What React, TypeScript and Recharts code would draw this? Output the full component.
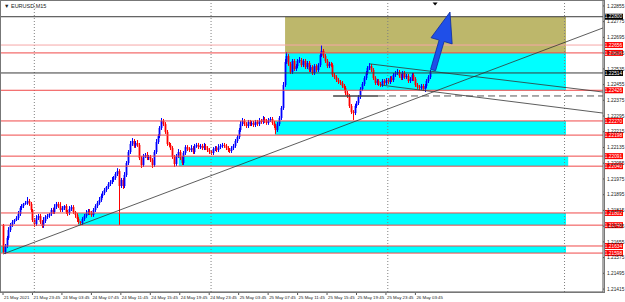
import React from 'react';
import {
  ComposedChart, Bar, XAxis, YAxis, ReferenceArea, ReferenceLine, ReferenceDot,
} from 'recharts';

// EURUSD M15, 21 May 19:45 -> 26 May 05:45. closes are pips above BASE
const BASE = 1.21;
const FIRST_OPEN = 74.1;
const CLOSES = [
  60.3, 63.4, 67.5, 71.5, 74.1, 75.6, 76.6, 77.6, 79.7, 82.7,
  83.7, 84.8, 85.3, 86.3, 84.8, 81.7, 76.6, 74.6, 77.6, 78.7,
  75.6, 73.6, 76.1, 78.1, 78.7, 79.7, 81.7, 80.7, 83.2, 84.8,
  83.7, 81.7, 82.7, 83.7, 80.7, 80.2, 82.2, 83.2, 80.7, 79.2,
  77.1, 75.6, 75.1, 77.1, 78.7, 80.2, 81.2, 80.2, 79.2, 81.7,
  83.7, 85.3, 86.8, 88.8, 90.3, 91.9, 93.4, 94.9, 95.9, 97.0,
  98.0, 100.0, 101.5, 93.9, 97.0, 93.9, 99.5, 105.6, 111.2, 115.3,
  116.8, 114.3, 115.8, 114.8, 108.1, 104.6, 109.2, 109.7, 108.1, 108.7,
  107.1, 104.6, 111.2, 116.3, 119.3, 123.4, 127.0, 125.4, 121.4, 115.3,
  114.8, 113.2, 108.7, 105.1, 109.2, 111.2, 108.1, 105.6, 110.7, 113.7,
  112.7, 112.2, 113.2, 111.2, 114.3, 114.8, 113.7, 114.3, 113.2, 114.3,
  113.2, 112.2, 111.2, 110.7, 112.7, 113.2, 112.2, 113.7, 114.3, 114.8,
  114.3, 113.2, 112.2, 111.7, 113.2, 114.3, 116.8, 118.8, 122.4, 125.4,
  127.0, 125.4, 124.4, 126.5, 125.4, 126.0, 124.9, 126.5, 125.4, 127.0,
  126.5, 128.0, 127.0, 126.0, 127.5, 128.0, 126.0, 124.4, 122.4, 125.4,
  128.5, 133.6, 145.3, 157.0, 160.0, 156.0, 151.9, 157.5, 153.4, 154.9,
  157.5, 158.0, 155.4, 157.5, 154.4, 156.5, 152.9, 154.4, 151.4, 154.9,
  152.9, 155.4, 160.5, 162.6, 160.0, 157.5, 154.9, 156.0, 155.4, 150.4,
  149.3, 147.8, 146.8, 146.3, 144.8, 143.8, 141.2, 139.7, 134.6, 131.5,
  131.0, 134.6, 136.1, 139.2, 143.2, 145.8, 148.8, 151.4, 153.9, 154.9,
  152.9, 148.8, 146.3, 147.3, 145.8, 145.3, 147.3, 146.3, 147.8, 146.8,
  148.8, 147.8, 150.4, 151.4, 151.9, 149.9, 148.8, 151.4, 149.3, 149.9,
  147.3, 148.3, 150.4, 148.3, 145.3, 144.3, 143.8, 144.8, 143.2, 144.8,
  147.3, 149.3, 151.9,
];
const WICK_UP = [
  0.5, 1, 1, 1.5, 1, 1, 0.5, 1, 1.5, 1,
  1, 0.5, 1, 2, 1, 1, 0.5, 1, 1.5, 1,
  1, 1, 2, 1, 1, 0.5, 1, 1, 1.5, 1,
  1, 2, 1, 0.5, 1, 1, 1.5, 1, 1, 0.5,
  1, 1, 0.5, 1, 1, 1.5, 1, 1, 1, 1,
  1, 1, 1.5, 1, 1, 1, 0.5, 1, 1, 1.5,
  1, 1, 1.5, 1, 1, 1, 1.5, 1, 1, 1.5,
  1.5, 1, 1, 1.5, 1, 1, 1, 1, 1.5, 1,
  1, 1, 1, 1.5, 1, 1, 1.5, 1, 1, 1,
  1, 1, 1, 1, 1, 1.5, 1, 1, 1, 1,
  1, 1, 1.5, 1, 1, 1, 1, 1, 1, 1.5,
  1, 1, 1, 1, 1, 1, 1, 1.5, 1, 1,
  1, 1, 1, 1, 1, 1, 1, 1, 1, 1.5,
  1.5, 1, 1, 1, 1, 1, 1, 1, 1, 1.5,
  1, 1.5, 1, 1, 1, 1, 1, 1, 1, 1,
  1, 1, 1.5, 1.5, 2, 1, 1, 1, 1, 1,
  1, 1.5, 1, 1, 1, 1, 1, 1, 1, 1,
  1, 1, 1, 3, 1, 1, 1, 1, 1, 1,
  1, 1, 1, 1, 1, 1, 1, 1, 1, 1,
  1, 1, 1, 1, 1, 1, 1, 1, 1, 1.5,
  1, 1, 1, 1, 1, 1, 1, 1, 1, 1,
  1, 1, 1, 1, 1.5, 1, 1, 1, 1, 1,
  1, 1, 1, 1, 1, 1, 1, 1, 1, 1,
  1, 1, 1,
];
const WICK_DN = [
  0.5, 1, 1, 1, 1, 1, 1, 0.5, 1, 1,
  1, 1, 0.5, 1, 1, 1, 1, 1.5, 1, 1,
  1, 1, 1, 1, 1, 1, 1, 1, 1, 1,
  1, 1, 1, 1, 1, 1.5, 1, 1, 1, 1.5,
  1.5, 1, 1, 1, 1, 1, 1, 1, 1, 1,
  1, 1, 1, 1, 1, 1, 1, 1, 1, 1,
  1, 1, 1, 19.8, 1, 1.5, 1, 1, 1, 1,
  1, 1, 1, 1, 1, 1.5, 1, 1, 1, 1,
  1, 1.5, 1, 1, 1, 1, 1, 1, 1, 1,
  1, 1, 1, 1.5, 1, 1, 1, 1, 1, 1,
  1, 1, 1, 1, 1, 1, 1, 1, 1, 1,
  1, 1, 1, 1, 1, 1, 1, 1, 1, 1,
  1, 1, 1, 1, 1, 1, 1, 1, 1, 1,
  1, 1, 1, 1, 1, 1, 1, 1, 1, 1,
  1, 1, 1, 1, 1, 1, 1, 1, 2, 1,
  1, 1, 1, 1, 1, 1, 1, 1, 1, 1,
  1, 1, 1, 1, 1, 1, 1, 1, 1, 1,
  1, 1, 1, 1, 1, 1, 1, 1, 1, 1,
  1, 1, 1, 1, 1, 1, 1, 1, 1, 1,
  3.5, 1, 1, 1, 1, 1, 1, 1, 1, 1,
  1, 1, 1, 1, 1, 1, 1, 1, 1, 1,
  1, 1, 1, 1, 1, 1, 1, 1, 1, 1,
  1, 1, 1, 1, 1, 1, 1, 1, 1, 1.5,
  1, 1, 1,
];

const TIME_TICKS = [0, 16, 32, 48, 64, 80, 96, 112, 128, 144, 160, 176, 192, 208, 224];
const TIME_LABELS = [
  '21 May 2021', '21 May 23:45', '24 May 03:45', '24 May 07:45', '24 May 11:45',
  '24 May 15:45', '24 May 19:45', '24 May 23:45', '25 May 03:45', '25 May 07:45',
  '25 May 11:45', '25 May 15:45', '25 May 19:45', '25 May 23:45', '26 May 03:45',
];
const DAY_BREAKS = [17, 113, 209, 305];
const PRICE_TICKS = [
  1.21415, 1.21495, 1.21575, 1.21655, 1.21735, 1.21815, 1.21895, 1.21975, 1.22055, 1.22135,
  1.22215, 1.22295, 1.22375, 1.22455, 1.22535, 1.22615, 1.22695, 1.22775, 1.22855,
];

const BLACK_LEVELS = [1.228, 1.22514];
const PINK_LEVELS = [1.22656];
const RED_LEVELS = [1.22616, 1.22426, 1.2227, 1.22198, 1.22091, 1.2204, 1.21802, 1.2174, 1.21634, 1.21598];

const OLIVE_ZONE = { from: 153.2, to: 305.8, lo: 1.22616, hi: 1.228 };
const CYAN_ZONES = [
  { from: 153.2, to: 305.8, lo: 1.22426, hi: 1.22616 },
  { from: 147.7, to: 305.8, lo: 1.22198, hi: 1.2227 },
  { from: 95.5, to: 307, lo: 1.2204, hi: 1.22091 },
  { from: 40.7, to: 305.8, lo: 1.2174, hi: 1.21802 },
  { from: -1.1, to: 305.8, lo: 1.21598, hi: 1.21634 },
];
const TRENDLINES = [
  { i1: 0, p1: 1.21593, i2: 325.9, p2: 1.22743 },
  { i1: 199.3, p1: 1.2256, i2: 325.9, p2: 1.22417 },
  { i1: 204.8, p1: 1.22453, i2: 325.9, p2: 1.2231 },
];
const FLAT_LEVEL = { price: 1.22397, solidFrom: 179.3, dashFrom: 203.7, to: 325.9 };
const ARROW = { i1: 233.6, p1: 1.22529, i2: 242.8, p2: 1.22824 };

const data = CLOSES.map((c, i) => {
  const o = i === 0 ? FIRST_OPEN : CLOSES[i - 1];
  const hi = Math.max(o, c) + WICK_UP[i];
  const lo = Math.min(o, c) - WICK_DN[i];
  return {
    i,
    open: BASE + o / 10000,
    close: BASE + c / 10000,
    high: BASE + hi / 10000,
    low: BASE + lo / 10000,
  };
});

const FONT = '"Liberation Sans", Arial, sans-serif';

const Candle = (props: any) => {
  const { x, y, width, height, payload } = props;
  if (!payload) return null;
  const top = height < 0 ? y + height : y;
  const h = Math.abs(height);
  const { open, close, high, low } = payload;
  const f = h / (high - low || 1e-9);
  const bTop = top + (high - Math.max(open, close)) * f;
  const bBot = top + (high - Math.min(open, close)) * f;
  const cx = Math.round(x + width / 2) + 0.5;
  const col = close >= open ? '#0000ff' : '#ff0000';
  return (
    <g>
      <line x1={cx} x2={cx} y1={top} y2={top + h} stroke={col} strokeWidth={1} />
      <rect x={cx - 0.9} y={bTop} width={1.8} height={Math.max(bBot - bTop, 0.8)} fill={col} />
    </g>
  );
};

const TimeTick = ({ x, y, payload }: any) => {
  const idx = TIME_TICKS.indexOf(payload.value);
  return (
    <g>
      <line x1={x} x2={x} y1={y} y2={y + 3} stroke="#555" />
      <text x={x + 1} y={y + 6.5} fontSize={4.4} fontFamily={FONT} fill="#222" textAnchor="start">
        {TIME_LABELS[idx]}
      </text>
    </g>
  );
};

const PriceTick = ({ x, y, payload }: any) => (
  <text x={x} y={y + 1.7} fontSize={4.8} fontFamily={FONT} fill="#222" textAnchor="start">
    {payload.value.toFixed(5)}
  </text>
);

const boxLabel = (price: number, bg: string) => (props: any) => {
  const vb = props.viewBox;
  if (!vb) return null;
  const bx = vb.x + vb.width + 1;
  return (
    <g>
      <rect x={bx} y={vb.y - 3} width={19} height={6} fill={bg} />
      <text x={bx + 9.5} y={vb.y + 1.7} fontSize={4.8} fontFamily={FONT} fill="#fff" textAnchor="middle">
        {price.toFixed(5)}
      </text>
    </g>
  );
};

const ArrowShape = (props: any) => {
  const { x1, y1, x2, y2 } = props;
  if (x1 == null) return null;
  const dx = x2 - x1, dy = y2 - y1;
  const L = Math.hypot(dx, dy) || 1;
  const ux = dx / L, uy = dy / L;
  const nx = -uy, ny = ux;
  const head = 30, hw = 11, sw = 2.6;
  const bx = x2 - ux * head, by = y2 - uy * head;
  const pts = [
    [x1 + nx * sw, y1 + ny * sw],
    [bx + nx * sw, by + ny * sw],
    [bx + nx * hw, by + ny * hw],
    [x2, y2],
    [bx - nx * hw, by - ny * hw],
    [bx - nx * sw, by - ny * sw],
    [x1 - nx * sw, y1 - ny * sw],
  ].map(p => p.join(',')).join(' ');
  return <polygon points={pts} fill="#1f4fe8" stroke="#0b2a9e" strokeWidth={0.8} />;
};

const ShiftMark = ({ cx, cy }: any) => (
  <polygon points={`${cx - 2.5},${cy - 1.5} ${cx + 2.5},${cy - 1.5} ${cx},${cy + 1.5}`} fill="#000" />
);

export default function App() {
  return (
    <div style={{ position: 'absolute', left: 0, top: 0, width: 625, height: 302, background: '#fff', overflow: 'hidden' }}>
      <ComposedChart width={625} height={302} data={data} margin={{ top: 1, right: 0, bottom: 0, left: 1 }}>
        <XAxis
          type="number" dataKey="i" domain={[-1.1, 325.9]} allowDataOverflow
          ticks={TIME_TICKS} interval={0} height={10} tickSize={0} tickMargin={0}
          tick={<TimeTick />} tickLine={false} axisLine={{ stroke: '#555' }}
        />
        <YAxis
          orientation="right" type="number" domain={[1.214, 1.2288]} allowDataOverflow
          ticks={PRICE_TICKS} interval={0} width={22} tickSize={2}
          tick={<PriceTick />} tickLine={{ stroke: '#555' }} axisLine={{ stroke: '#555' }}
        />

        <ReferenceArea x1={OLIVE_ZONE.from} x2={OLIVE_ZONE.to} y1={OLIVE_ZONE.lo} y2={OLIVE_ZONE.hi}
          fill="#bdb76b" fillOpacity={1} stroke="none" ifOverflow="visible" />
        {CYAN_ZONES.map((z, k) => (
          <ReferenceArea key={'c' + k} x1={z.from} x2={z.to} y1={z.lo} y2={z.hi}
            fill="#00ffff" fillOpacity={1} stroke="none" ifOverflow="visible" />
        ))}

        {DAY_BREAKS.map(d => (
          <ReferenceLine key={'d' + d} x={d} stroke="#808080" strokeDasharray="1 2" />
        ))}

        {PINK_LEVELS.map(p => (
          <ReferenceLine key={'p' + p} y={p} stroke="#f6a8a8" label={boxLabel(p, '#ff0000')} />
        ))}
        {RED_LEVELS.map(p => (
          <ReferenceLine key={'r' + p} y={p} stroke="#f04848" label={boxLabel(p, '#ff0000')} />
        ))}
        {BLACK_LEVELS.map(p => (
          <ReferenceLine key={'k' + p} y={p} stroke="#3a3a3a" label={boxLabel(p, '#000000')} />
        ))}

        <Bar dataKey={(d: any) => [d.low, d.high]} barSize={2} shape={<Candle />} isAnimationActive={false} />

        {TRENDLINES.map((t, k) => (
          <ReferenceLine key={'t' + k} segment={[{ x: t.i1, y: t.p1 }, { x: t.i2, y: t.p2 }]}
            stroke="#333" strokeWidth={0.8} ifOverflow="visible" />
        ))}
        <ReferenceLine segment={[{ x: FLAT_LEVEL.solidFrom, y: FLAT_LEVEL.price }, { x: FLAT_LEVEL.dashFrom, y: FLAT_LEVEL.price }]}
          stroke="#444" strokeWidth={1.6} ifOverflow="visible" />
        <ReferenceLine segment={[{ x: FLAT_LEVEL.dashFrom, y: FLAT_LEVEL.price }, { x: FLAT_LEVEL.to, y: FLAT_LEVEL.price }]}
          stroke="#444" strokeWidth={0.9} strokeDasharray="7 4" ifOverflow="visible" />
        <ReferenceLine segment={[{ x: ARROW.i1, y: ARROW.p1 }, { x: ARROW.i2, y: ARROW.p2 }]}
          shape={ArrowShape} ifOverflow="visible" />
        <ReferenceDot x={234.7} y={1.22865} r={2} shape={ShiftMark} ifOverflow="visible" />
      </ComposedChart>
      <div style={{ position: 'absolute', left: 0, top: 0, width: 603, height: 291, border: '1px solid #777', pointerEvents: 'none' }} />
      <div style={{ position: 'absolute', left: 4, top: 3, fontSize: 5.5, fontFamily: FONT, color: '#222', whiteSpace: 'nowrap' }}>
        ▼ EURUSD,M15
      </div>
    </div>
  );
}
